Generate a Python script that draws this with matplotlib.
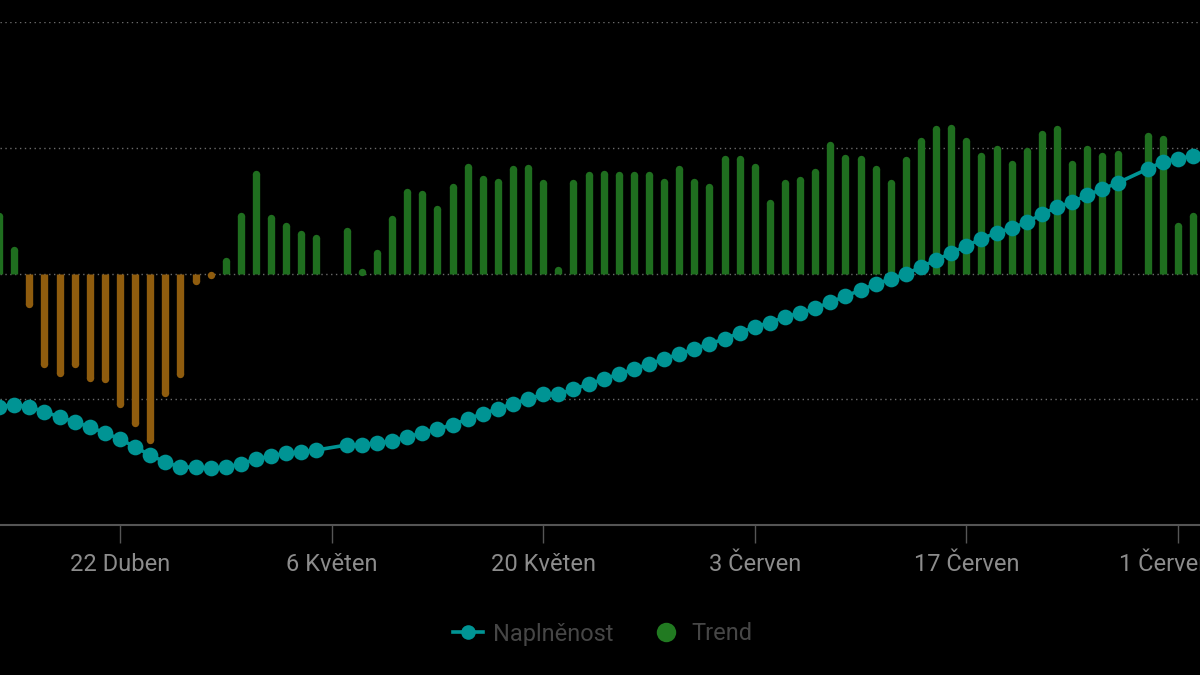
import numpy as np
import matplotlib
matplotlib.use("Agg")
import matplotlib.pyplot as plt
import matplotlib.dates as mdates
from matplotlib.lines import Line2D
import datetime as dt

plt.rcParams['font.family'] = ['Roboto', 'DejaVu Sans']

# ---- data ----
start_date = dt.date(2024, 4, 14)
n_days = 80
dates = [start_date + dt.timedelta(days=i) for i in range(n_days)]

trend = [0.49, 0.22, -0.27, -0.75, -0.82, -0.75, -0.86, -0.87, -1.07, -1.22,
         -1.35, -0.98, -0.83, -0.09, -0.04, 0.13, 0.49, 0.82, 0.47, 0.41,
         0.34, 0.31, np.nan, 0.37, 0.04, 0.19, 0.46, 0.68, 0.66, 0.54,
         0.72, 0.88, 0.78, 0.76, 0.86, 0.87, 0.75, 0.06, 0.75, 0.81,
         0.82, 0.81, 0.81, 0.81, 0.76, 0.86, 0.76, 0.72, 0.94, 0.94,
         0.88, 0.59, 0.75, 0.77, 0.84, 1.05, 0.95, 0.94, 0.86, 0.75,
         0.93, 1.08, 1.18, 1.19, 1.08, 0.96, 1.02, 0.90, 1.00, 1.14,
         1.18, 0.90, 1.02, 0.96, 0.98, np.nan, 1.12, 1.10, 0.41, 0.49]

fill = [23.5, 23.9, 23.5, 22.5, 21.5, 20.5, 19.5, 18.3, 17.1, 15.5,
        13.9, 12.5, 11.5, 11.5, 11.3, 11.5, 12.1, 13.1, 13.7, 14.3,
        14.5, 14.9, np.nan, 15.9, 15.9, 16.3, 16.7, 17.5, 18.3, 19.1,
        19.9, 21.1, 22.1, 23.1, 24.1, 25.0, 26.0, 26.0, 27.0, 28.0,
        29.0, 30.0, 31.0, 32.0, 33.0, 34.0, 35.0, 36.0, 37.0, 38.2,
        39.4, 40.2, 41.4, 42.1, 43.1, 44.3, 45.5, 46.7, 47.9, 48.9,
        49.9, 51.3, 52.7, 54.1, 55.5, 56.9, 58.1, 59.0, 60.2, 61.8,
        63.2, 64.2, 65.6, 66.8, 68.0, np.nan, 70.8, 72.2, 72.8, 73.4]

tick_dates = [dt.date(2024, 4, 22), dt.date(2024, 5, 6), dt.date(2024, 5, 20),
              dt.date(2024, 6, 3), dt.date(2024, 6, 17), dt.date(2024, 7, 1)]
tick_labels = ["22 Duben", "6 Květen", "20 Květen", "3 Červen", "17 Červen", "1 Červenec"]

series_names = ["Naplněnost", "Trend"]

# ---- style ----
BG = "#000000"
GREEN = "#1f6e1f"
GREEN_LEG = "#217a21"
ORANGE = "#8f5c0e"
TEAL = "#009494"
GRID = "#6a6a6a"
AXIS = "#555555"
TICKTXT = "#8c8c8c"
LEGTXT = "#464646"

W, H = 1200, 675
fig = plt.figure(figsize=(W / 100, H / 100), dpi=100, facecolor=BG)
ax = fig.add_axes([0, (H - 525) / H, 1, (525 - 22) / H])
ax.set_facecolor(BG)

xnum = mdates.date2num(dates)
px_per_day = 15.114
left = mdates.date2num(tick_dates[0]) - 120 / px_per_day
ax.set_xlim(left, left + W / px_per_day)
ax.set_ylim(-2, 2)

# bars with rounded ends
bar_w_pt = 5.3
px_per_unit = 503 / 4
r_units = (bar_w_pt / 72 * 100) / 2 / px_per_unit
tv = np.array(trend, dtype=float)
for x, v in zip(xnum, tv):
    if np.isnan(v):
        continue
    c = GREEN if v >= 0 else ORANGE
    s = 1 if v >= 0 else -1
    vt = v - s * r_units
    if s * vt < 0:
        vt = 0
    ax.vlines(x, 0, vt, colors=c, linewidth=bar_w_pt, capstyle='butt', zorder=2)
    ax.scatter([x], [vt], s=bar_w_pt ** 2, color=c, marker='o', linewidths=0, zorder=2)

# grid
for gy in [-1, 0, 1, 2]:
    ax.axhline(gy, color=GRID, linewidth=1.0, linestyle=(0, (1, 2.5)), zorder=1)

for sp in ['top', 'left', 'right']:
    ax.spines[sp].set_visible(False)
ax.spines['bottom'].set_color(AXIS)
ax.spines['bottom'].set_linewidth(1.5)
ax.set_yticks([])
ax.set_xticks(mdates.date2num(tick_dates))
ax.set_xticklabels(tick_labels)
ax.tick_params(axis='x', colors=AXIS, length=13, width=1.0, pad=7,
               labelsize=17, labelcolor=TICKTXT)

# line on twin axis
ax2 = ax.twinx()
ax2.set_ylim(0, 100)
ax2.set_xlim(ax.get_xlim())
fv = np.array(fill, dtype=float)
m = ~np.isnan(fv)
ax2.plot(xnum[m], fv[m], color=TEAL, linewidth=2.6, marker='o', markersize=11.3,
         markeredgewidth=0, zorder=3, clip_on=True)
ax2.set_yticks([])
for sp in ax2.spines.values():
    sp.set_visible(False)

# legend
handles = [Line2D([0], [0], color=TEAL, linewidth=2.6, marker='o', markersize=10.5, markeredgewidth=0),
           Line2D([0], [0], color=GREEN_LEG, linewidth=0, marker='o', markersize=14, markeredgewidth=0)]
leg = fig.legend(handles, series_names, loc='center', bbox_to_anchor=(603 / W, 1 - 634 / H),
                 ncol=2, frameon=False, fontsize=17, handlelength=1.25, handletextpad=0.45,
                 columnspacing=1.6)
for t in leg.get_texts():
    t.set_color(LEGTXT)

fig.savefig("out.png", dpi=100, facecolor=BG)
